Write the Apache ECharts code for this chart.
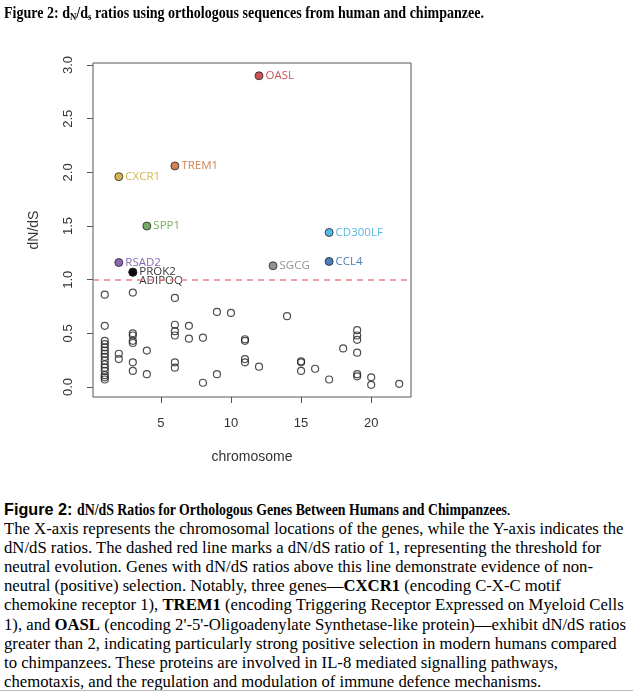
<!DOCTYPE html>
<html>
<head>
<meta charset="utf-8">
<script src="https://cdn.jsdelivr.net/npm/echarts@6/dist/echarts.min.js"></script>
<style>
  html, body { margin: 0; padding: 0; background: #fff; }
  #page { position: relative; width: 633px; height: 692px; overflow: hidden; }
  #chart { position: absolute; left: 0; top: 0; width: 633px; height: 480px; }
  #title {
    position: absolute; left: 4px; top: 4px; white-space: nowrap;
    font-family: "Liberation Serif", "Times New Roman", serif;
    font-weight: bold; font-size: 16px; color: #000; z-index: 2;
  }
  #title sub { font-size: 10px; vertical-align: -2px; }
  #caption {
    position: absolute; left: 4px; top: 500px; white-space: nowrap;
    font-family: "Liberation Serif", "Times New Roman", serif;
    font-size: 16.7px; line-height: 19.1px; color: #000;
  }
  #caption .sans { font-family: "Liberation Sans", Arial, sans-serif; font-size: 16.2px; }
  .cond { display: inline-block; transform-origin: 0 0; }
  #rule { position: absolute; left: 0; top: 690px; width: 633px; height: 1px; background: #bbb; }
</style>
</head>
<body>
<div id="page">
  <div id="chart"></div>
  <div id="title"><span class="cond" data-scale="0.876">Figure 2: d<sub>N</sub>/d<sub>s</sub> ratios using orthologous sequences from human and chimpanzee.</span></div>
  <div id="caption">
    <b class="sans">Figure 2:</b> <b class="cond" data-scale="0.827">dN/dS Ratios for Orthologous Genes Between Humans and Chimpanzees</b>.<br>
    The X-axis represents the chromosomal locations of the genes, while the Y-axis indicates the<br>
    dN/dS ratios. The dashed red line marks a dN/dS ratio of 1, representing the threshold for<br>
    neutral evolution. Genes with dN/dS ratios above this line demonstrate evidence of non-<br>
    neutral (positive) selection. Notably, three genes&mdash;<b>CXCR1</b> (encoding C-X-C motif<br>
    chemokine receptor 1), <b>TREM1</b> (encoding Triggering Receptor Expressed on Myeloid Cells<br>
    1), and <b>OASL</b> (encoding 2'-5'-Oligoadenylate Synthetase-like protein)&mdash;exhibit dN/dS ratios<br>
    greater than 2, indicating particularly strong positive selection in modern humans compared<br>
    to chimpanzees. These proteins are involved in IL-8 mediated signalling pathways,<br>
    chemotaxis, and the regulation and modulation of immune defence mechanisms.
  </div>
  <div id="rule"></div>
</div>
<script>
  // 文字压缩（原图的粗体字较窄）
  var conds = document.querySelectorAll('.cond');
  for (var k = 0; k < conds.length; k++) {
    var s = parseFloat(conds[k].getAttribute('data-scale'));
    var w = conds[k].getBoundingClientRect().width;
    conds[k].style.transform = 'scaleX(' + s + ')';
    conds[k].style.marginRight = (-(1 - s) * w) + 'px';
  }

  // 数据
  //-----

  // 其余基因（空心圆）：染色体编号与 dN/dS
  var bgChrom = [
    1, 1, 1, 1, 1, 1, 1, 1, 1, 1, 1, 1, 1, 1, 1,
    2, 2,
    3, 3, 3, 3, 3, 3, 3,
    4, 4,
    6, 6, 6, 6, 6, 6,
    7, 7,
    8, 8,
    9, 9,
    10,
    11, 11, 11, 11,
    12,
    14,
    15, 15, 15,
    16,
    17,
    18,
    19, 19, 19, 19, 19, 19,
    20, 20,
    22
  ];
  var bgRatio = [
    0.86, 0.57, 0.43, 0.40, 0.37, 0.34, 0.31, 0.28, 0.245, 0.21, 0.18, 0.15, 0.11, 0.09, 0.07,
    0.31, 0.26,
    0.88, 0.50, 0.48, 0.43, 0.41, 0.23, 0.15,
    0.34, 0.12,
    0.83, 0.58, 0.52, 0.48, 0.23, 0.18,
    0.57, 0.45,
    0.46, 0.04,
    0.70, 0.12,
    0.69,
    0.445, 0.43, 0.26, 0.23,
    0.19,
    0.66,
    0.24, 0.23, 0.15,
    0.17,
    0.07,
    0.36,
    0.53, 0.48, 0.44, 0.32, 0.12, 0.10,
    0.09, 0.02,
    0.03
  ];

  // 标注的基因
  var genes = ['OASL', 'TREM1', 'CXCR1', 'SPP1', 'RSAD2', 'PROK2', 'ADIPOQ', 'SGCG', 'CD300LF', 'CCL4'];
  var geneChrom = [12, 6, 2, 4, 2, 3, 3, 13, 17, 17];
  var geneRatio = [2.90, 2.06, 1.96, 1.50, 1.16, 1.07, 1.07, 1.13, 1.44, 1.17];
  var geneColors = ['#c1272d', '#c8622c', '#c9a227', '#4f9a3a', '#6b3fa0', '#000000', '#000000', '#777777', '#2aa7df', '#1f5fa8'];

  // 坐标轴刻度
  var xTicks = [5, 10, 15, 20];
  var yTicks = [0, 0.5, 1.0, 1.5, 2.0, 2.5, 3.0];
  var threshold = 1;

  // 画图
  //-----
  var myChart = echarts.init(document.getElementById('chart'));

  var bgData = bgChrom.map(function(c, i) { return [c, bgRatio[i]]; });
  var geneData = genes.map(function(g, i) {
    var item = {
      name: g,
      value: [geneChrom[i], geneRatio[i]],
      itemStyle: { color: geneColors[i] },
      label: { color: geneColors[i] }
    };
    // ADIPOQ 与 PROK2 重叠，标签放到下面一行
    if (g === 'ADIPOQ') {
      item.label.offset = [0, 9];
    }
    return item;
  });

  var axisFont = { color: '#333', fontSize: 13, fontFamily: 'Liberation Sans, Arial, sans-serif' };

  var option = {
    animation: false,
    grid: {
      left: 93, top: 63, width: 318, height: 334,
      show: true, borderColor: '#555', borderWidth: 1
    },
    xAxis: {
      type: 'value',
      min: 0.16, max: 22.84,
      name: 'chromosome',
      nameLocation: 'middle',
      nameGap: 53,
      nameTextStyle: { color: '#333', fontSize: 14, fontFamily: 'Liberation Sans, Arial, sans-serif' },
      axisLine: { show: false, onZero: false },
      splitLine: { show: false },
      axisTick: { show: true, length: 6, lineStyle: { color: '#555' }, customValues: xTicks },
      axisLabel: Object.assign({ margin: 20, customValues: xTicks }, axisFont)
    },
    yAxis: {
      type: 'value',
      min: -0.093, max: 3.019,
      name: 'dN/dS',
      nameLocation: 'middle',
      nameRotate: 90,
      nameGap: 52,
      nameTextStyle: { color: '#333', fontSize: 14, fontFamily: 'Liberation Sans, Arial, sans-serif' },
      axisLine: { show: false, onZero: false },
      splitLine: { show: false },
      axisTick: { show: true, length: 6, lineStyle: { color: '#555' }, customValues: yTicks },
      axisLabel: Object.assign({
        margin: 18,
        rotate: 90,
        customValues: yTicks,
        formatter: function(v) { return v.toFixed(1); }
      }, axisFont)
    },
    series: [
      {
        name: 'others',
        type: 'scatter',
        symbol: 'circle',
        symbolSize: 7,
        data: bgData,
        itemStyle: { color: 'rgba(0,0,0,0)', borderColor: '#222', borderWidth: 1.2 },
        markLine: {
          silent: true,
          symbol: 'none',
          label: { show: false },
          lineStyle: { color: '#ee7f8a', type: [6, 5], width: 1.6 },
          data: [{ yAxis: threshold }]
        }
      },
      {
        name: 'genes',
        type: 'scatter',
        symbol: 'circle',
        symbolSize: 8,
        data: geneData,
        itemStyle: { borderColor: '#222', borderWidth: 1 },
        label: {
          show: true,
          position: 'right',
          distance: 2,
          formatter: '{b}',
          fontSize: 11.5,
          fontFamily: 'Open Sans, Noto Sans, sans-serif'
        }
      }
    ]
  };

  myChart.setOption(option);
</script>
</body>
</html>
